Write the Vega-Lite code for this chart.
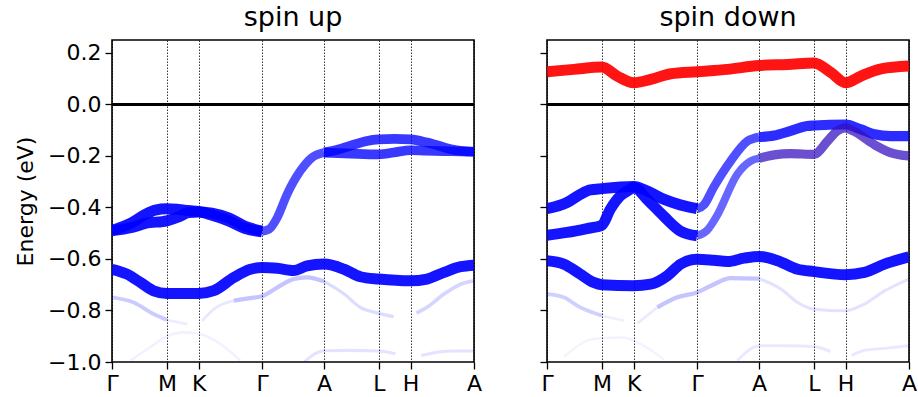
{
  "$schema": "https://vega.github.io/schema/vega-lite/v6.json",
  "padding": {"left": 13, "top": 3, "right": 2, "bottom": 5},
  "config": {
    "font": "DejaVu Sans",
    "view": {"stroke": "#000000", "strokeWidth": 1.6},
    "axis": {"domain": false, "tickColor": "#000000", "tickWidth": 1.3, "tickSize": 7, "labelColor": "#000000", "labelFontSize": 22, "titleFontSize": 22, "titleColor": "#000000", "titleFontWeight": "normal", "labelPadding": 4, "zindex": 1},
    "title": {"fontSize": 27, "fontWeight": "normal", "color": "#000000", "anchor": "middle", "offset": 8},
    "concat": {"spacing": 55}
  },
  "datasets": {
    "bands": [
      {"spin":"up","band":"uF2","proj":"b","weight":0.06,"k":0.19,"E":-0.995},
      {"spin":"up","band":"uF2","proj":"b","weight":0.06,"k":0.40,"E":-0.943},
      {"spin":"up","band":"uF2","proj":"b","weight":0.06,"k":0.577,"E":-0.90},
      {"spin":"up","band":"uF2","proj":"b","weight":0.06,"k":0.75,"E":-0.885},
      {"spin":"up","band":"uF2","proj":"b","weight":0.06,"k":0.911,"E":-0.89},
      {"spin":"up","band":"uF2","proj":"b","weight":0.06,"k":1.14,"E":-0.93},
      {"spin":"up","band":"uF2","proj":"b","weight":0.06,"k":1.35,"E":-0.995},
      {"spin":"up","band":"uF3a","proj":"b","weight":0.12,"k":2.02,"E":-1.0},
      {"spin":"up","band":"uF3a","proj":"b","weight":0.12,"k":2.16,"E":-0.963},
      {"spin":"up","band":"uF3a","proj":"b","weight":0.12,"k":2.228,"E":-0.956},
      {"spin":"up","band":"uF3a","proj":"b","weight":0.12,"k":2.5,"E":-0.955},
      {"spin":"up","band":"uF3a","proj":"b","weight":0.12,"k":2.805,"E":-0.957},
      {"spin":"up","band":"uF3a","proj":"b","weight":0.12,"k":2.98,"E":-0.968},
      {"spin":"up","band":"uF3b","proj":"b","weight":0.12,"k":3.25,"E":-0.975},
      {"spin":"up","band":"uF3b","proj":"b","weight":0.12,"k":3.45,"E":-0.96},
      {"spin":"up","band":"uF3b","proj":"b","weight":0.12,"k":3.6,"E":-0.957},
      {"spin":"up","band":"uF3b","proj":"b","weight":0.12,"k":3.805,"E":-0.957},
      {"spin":"up","band":"uF1a","proj":"b","weight":0.22,"k":0,"E":-0.749},
      {"spin":"up","band":"uF1a","proj":"b","weight":0.22,"k":0.228,"E":-0.769},
      {"spin":"up","band":"uF1a","proj":"b","weight":0.22,"k":0.438,"E":-0.814},
      {"spin":"up","band":"uF1a","proj":"b","weight":0.22,"k":0.577,"E":-0.837},
      {"spin":"up","band":"uF1b","proj":"b","weight":0.08,"k":0.577,"E":-0.837},
      {"spin":"up","band":"uF1b","proj":"b","weight":0.08,"k":0.79,"E":-0.853},
      {"spin":"up","band":"uF1c","proj":"b","weight":0.1,"k":0.95,"E":-0.84},
      {"spin":"up","band":"uF1c","proj":"b","weight":0.1,"k":1.07,"E":-0.795},
      {"spin":"up","band":"uF1c","proj":"b","weight":0.1,"k":1.28,"E":-0.762},
      {"spin":"up","band":"uF1d","proj":"b","weight":0.25,"k":1.28,"E":-0.762},
      {"spin":"up","band":"uF1d","proj":"b","weight":0.25,"k":1.45,"E":-0.752},
      {"spin":"up","band":"uF1d","proj":"b","weight":0.25,"k":1.577,"E":-0.745},
      {"spin":"up","band":"uF1d","proj":"b","weight":0.25,"k":1.736,"E":-0.711},
      {"spin":"up","band":"uF1d","proj":"b","weight":0.25,"k":1.91,"E":-0.678},
      {"spin":"up","band":"uF1d","proj":"b","weight":0.25,"k":2.05,"E":-0.671},
      {"spin":"up","band":"uF1d","proj":"b","weight":0.25,"k":2.228,"E":-0.687},
      {"spin":"up","band":"uF1e","proj":"b","weight":0.15,"k":2.228,"E":-0.687},
      {"spin":"up","band":"uF1e","proj":"b","weight":0.15,"k":2.44,"E":-0.736},
      {"spin":"up","band":"uF1e","proj":"b","weight":0.15,"k":2.61,"E":-0.788},
      {"spin":"up","band":"uF1e","proj":"b","weight":0.15,"k":2.805,"E":-0.811},
      {"spin":"up","band":"uF1e","proj":"b","weight":0.15,"k":2.96,"E":-0.824},
      {"spin":"up","band":"uF1g","proj":"b","weight":0.18,"k":3.2,"E":-0.81},
      {"spin":"up","band":"uF1g","proj":"b","weight":0.18,"k":3.31,"E":-0.788},
      {"spin":"up","band":"uF1g","proj":"b","weight":0.18,"k":3.49,"E":-0.736},
      {"spin":"up","band":"uF1g","proj":"b","weight":0.18,"k":3.665,"E":-0.698},
      {"spin":"up","band":"uF1g","proj":"b","weight":0.18,"k":3.805,"E":-0.685},
      {"spin":"up","band":"uC","proj":"b","weight":1,"k":0,"E":-0.64},
      {"spin":"up","band":"uC","proj":"b","weight":1,"k":0.158,"E":-0.659},
      {"spin":"up","band":"uC","proj":"b","weight":1,"k":0.298,"E":-0.691},
      {"spin":"up","band":"uC","proj":"b","weight":1,"k":0.438,"E":-0.724},
      {"spin":"up","band":"uC","proj":"b","weight":1,"k":0.577,"E":-0.734},
      {"spin":"up","band":"uC","proj":"b","weight":1,"k":0.911,"E":-0.734},
      {"spin":"up","band":"uC","proj":"b","weight":1,"k":1.07,"E":-0.723},
      {"spin":"up","band":"uC","proj":"b","weight":1,"k":1.28,"E":-0.672},
      {"spin":"up","band":"uC","proj":"b","weight":1,"k":1.455,"E":-0.64},
      {"spin":"up","band":"uC","proj":"b","weight":1,"k":1.577,"E":-0.633},
      {"spin":"up","band":"uC","proj":"b","weight":1,"k":1.736,"E":-0.636},
      {"spin":"up","band":"uC","proj":"b","weight":1,"k":1.91,"E":-0.645},
      {"spin":"up","band":"uC","proj":"b","weight":1,"k":2.05,"E":-0.627},
      {"spin":"up","band":"uC","proj":"b","weight":1,"k":2.228,"E":-0.62},
      {"spin":"up","band":"uC","proj":"b","weight":1,"k":2.44,"E":-0.64},
      {"spin":"up","band":"uC","proj":"b","weight":1,"k":2.61,"E":-0.669},
      {"spin":"up","band":"uC","proj":"b","weight":1,"k":2.805,"E":-0.678},
      {"spin":"up","band":"uC","proj":"b","weight":1,"k":3.138,"E":-0.685},
      {"spin":"up","band":"uC","proj":"b","weight":1,"k":3.31,"E":-0.678},
      {"spin":"up","band":"uC","proj":"b","weight":1,"k":3.49,"E":-0.652},
      {"spin":"up","band":"uC","proj":"b","weight":1,"k":3.665,"E":-0.63},
      {"spin":"up","band":"uC","proj":"b","weight":1,"k":3.805,"E":-0.624},
      {"spin":"up","band":"uU1","proj":"b","weight":1,"k":0,"E":-0.49},
      {"spin":"up","band":"uU1","proj":"b","weight":1,"k":0.21,"E":-0.459},
      {"spin":"up","band":"uU1","proj":"b","weight":1,"k":0.35,"E":-0.427},
      {"spin":"up","band":"uU1","proj":"b","weight":1,"k":0.455,"E":-0.41},
      {"spin":"up","band":"uU1","proj":"b","weight":1,"k":0.577,"E":-0.405},
      {"spin":"up","band":"uU1","proj":"b","weight":1,"k":0.70,"E":-0.408},
      {"spin":"up","band":"uU1","proj":"b","weight":1,"k":0.80,"E":-0.412},
      {"spin":"up","band":"uU1","proj":"b","weight":1,"k":0.911,"E":-0.416},
      {"spin":"up","band":"uU1","proj":"b","weight":1,"k":1.05,"E":-0.422},
      {"spin":"up","band":"uU1","proj":"b","weight":1,"k":1.225,"E":-0.44},
      {"spin":"up","band":"uU1","proj":"b","weight":1,"k":1.40,"E":-0.473},
      {"spin":"up","band":"uU1","proj":"b","weight":1,"k":1.577,"E":-0.492},
      {"spin":"up","band":"uU2","proj":"b","weight":1,"k":0,"E":-0.49},
      {"spin":"up","band":"uU2","proj":"b","weight":1,"k":0.21,"E":-0.478},
      {"spin":"up","band":"uU2","proj":"b","weight":1,"k":0.35,"E":-0.462},
      {"spin":"up","band":"uU2","proj":"b","weight":1,"k":0.577,"E":-0.452},
      {"spin":"up","band":"uU2","proj":"b","weight":1,"k":0.70,"E":-0.437},
      {"spin":"up","band":"uU2","proj":"b","weight":1,"k":0.805,"E":-0.42},
      {"spin":"up","band":"uU2","proj":"b","weight":1,"k":0.911,"E":-0.418},
      {"spin":"up","band":"uU2","proj":"b","weight":1,"k":1.05,"E":-0.43},
      {"spin":"up","band":"uU2","proj":"b","weight":1,"k":1.225,"E":-0.452},
      {"spin":"up","band":"uU2","proj":"b","weight":1,"k":1.40,"E":-0.482},
      {"spin":"up","band":"uU2","proj":"b","weight":1,"k":1.577,"E":-0.495},
      {"spin":"up","band":"uS","proj":"b","weight":0.75,"k":1.577,"E":-0.493},
      {"spin":"up","band":"uS","proj":"b","weight":0.75,"k":1.65,"E":-0.485},
      {"spin":"up","band":"uS","proj":"b","weight":0.75,"k":1.736,"E":-0.44},
      {"spin":"up","band":"uS","proj":"b","weight":0.75,"k":1.84,"E":-0.349},
      {"spin":"up","band":"uS","proj":"b","weight":0.75,"k":1.98,"E":-0.258},
      {"spin":"up","band":"uS","proj":"b","weight":0.75,"k":2.10,"E":-0.207},
      {"spin":"up","band":"uS","proj":"b","weight":0.75,"k":2.228,"E":-0.187},
      {"spin":"up","band":"uU4","proj":"b","weight":0.85,"k":2.228,"E":-0.187},
      {"spin":"up","band":"uU4","proj":"b","weight":0.85,"k":2.35,"E":-0.178},
      {"spin":"up","band":"uU4","proj":"b","weight":0.85,"k":2.51,"E":-0.16},
      {"spin":"up","band":"uU4","proj":"b","weight":0.85,"k":2.68,"E":-0.142},
      {"spin":"up","band":"uU4","proj":"b","weight":0.85,"k":2.805,"E":-0.136},
      {"spin":"up","band":"uU4","proj":"b","weight":0.85,"k":2.97,"E":-0.134},
      {"spin":"up","band":"uU4","proj":"b","weight":0.85,"k":3.138,"E":-0.136},
      {"spin":"up","band":"uU4","proj":"b","weight":0.85,"k":3.30,"E":-0.147},
      {"spin":"up","band":"uU4","proj":"b","weight":0.85,"k":3.385,"E":-0.155},
      {"spin":"up","band":"uU4","proj":"b","weight":0.85,"k":3.56,"E":-0.174},
      {"spin":"up","band":"uU4","proj":"b","weight":0.85,"k":3.805,"E":-0.184},
      {"spin":"up","band":"uU5","proj":"b","weight":0.85,"k":2.228,"E":-0.187},
      {"spin":"up","band":"uU5","proj":"b","weight":0.85,"k":2.51,"E":-0.191},
      {"spin":"up","band":"uU5","proj":"b","weight":0.85,"k":2.805,"E":-0.194},
      {"spin":"up","band":"uU5","proj":"b","weight":0.85,"k":2.96,"E":-0.187},
      {"spin":"up","band":"uU5","proj":"b","weight":0.85,"k":3.138,"E":-0.178},
      {"spin":"up","band":"uU5","proj":"b","weight":0.85,"k":3.30,"E":-0.18},
      {"spin":"up","band":"uU5","proj":"b","weight":0.85,"k":3.56,"E":-0.182},
      {"spin":"up","band":"uU5","proj":"b","weight":0.85,"k":3.805,"E":-0.184},

      {"spin":"down","band":"dF3","proj":"b","weight":0.05,"k":0.176,"E":-0.98},
      {"spin":"down","band":"dF3","proj":"b","weight":0.05,"k":0.50,"E":-0.91},
      {"spin":"down","band":"dF3","proj":"b","weight":0.05,"k":0.80,"E":-0.905},
      {"spin":"down","band":"dF3","proj":"b","weight":0.05,"k":0.98,"E":-0.93},
      {"spin":"down","band":"dF3","proj":"b","weight":0.05,"k":1.23,"E":-0.99},
      {"spin":"down","band":"dF2a","proj":"b","weight":0.1,"k":2.0,"E":-0.995},
      {"spin":"down","band":"dF2a","proj":"b","weight":0.1,"k":2.14,"E":-0.95},
      {"spin":"down","band":"dF2a","proj":"b","weight":0.1,"k":2.228,"E":-0.937},
      {"spin":"down","band":"dF2a","proj":"b","weight":0.1,"k":2.5,"E":-0.937},
      {"spin":"down","band":"dF2a","proj":"b","weight":0.1,"k":2.805,"E":-0.94},
      {"spin":"down","band":"dF2a","proj":"b","weight":0.1,"k":2.98,"E":-0.96},
      {"spin":"down","band":"dF2b","proj":"b","weight":0.1,"k":3.2,"E":-0.975},
      {"spin":"down","band":"dF2b","proj":"b","weight":0.1,"k":3.337,"E":-0.955},
      {"spin":"down","band":"dF2b","proj":"b","weight":0.1,"k":3.548,"E":-0.947},
      {"spin":"down","band":"dF2b","proj":"b","weight":0.1,"k":3.805,"E":-0.937},
      {"spin":"down","band":"dF1a","proj":"b","weight":0.2,"k":0,"E":-0.736},
      {"spin":"down","band":"dF1a","proj":"b","weight":0.2,"k":0.176,"E":-0.749},
      {"spin":"down","band":"dF1a","proj":"b","weight":0.2,"k":0.35,"E":-0.788},
      {"spin":"down","band":"dF1a","proj":"b","weight":0.2,"k":0.577,"E":-0.82},
      {"spin":"down","band":"dF1b","proj":"b","weight":0.07,"k":0.577,"E":-0.82},
      {"spin":"down","band":"dF1b","proj":"b","weight":0.07,"k":0.81,"E":-0.84},
      {"spin":"down","band":"dF1c","proj":"b","weight":0.08,"k":0.95,"E":-0.85},
      {"spin":"down","band":"dF1c","proj":"b","weight":0.08,"k":1.16,"E":-0.788},
      {"spin":"down","band":"dF1d","proj":"b","weight":0.25,"k":1.16,"E":-0.788},
      {"spin":"down","band":"dF1d","proj":"b","weight":0.25,"k":1.37,"E":-0.749},
      {"spin":"down","band":"dF1d","proj":"b","weight":0.25,"k":1.577,"E":-0.73},
      {"spin":"down","band":"dF1d","proj":"b","weight":0.25,"k":1.757,"E":-0.698},
      {"spin":"down","band":"dF1d","proj":"b","weight":0.25,"k":1.93,"E":-0.674},
      {"spin":"down","band":"dF1d","proj":"b","weight":0.25,"k":2.228,"E":-0.676},
      {"spin":"down","band":"dF1e","proj":"b","weight":0.12,"k":2.228,"E":-0.676},
      {"spin":"down","band":"dF1e","proj":"b","weight":0.12,"k":2.46,"E":-0.717},
      {"spin":"down","band":"dF1e","proj":"b","weight":0.12,"k":2.635,"E":-0.769},
      {"spin":"down","band":"dF1e","proj":"b","weight":0.12,"k":2.805,"E":-0.795},
      {"spin":"down","band":"dF1e","proj":"b","weight":0.12,"k":3.138,"E":-0.801},
      {"spin":"down","band":"dF1e","proj":"b","weight":0.12,"k":3.337,"E":-0.775},
      {"spin":"down","band":"dF1e","proj":"b","weight":0.12,"k":3.548,"E":-0.724},
      {"spin":"down","band":"dF1e","proj":"b","weight":0.12,"k":3.805,"E":-0.678},
      {"spin":"down","band":"dC","proj":"b","weight":1,"k":0,"E":-0.607},
      {"spin":"down","band":"dC","proj":"b","weight":1,"k":0.176,"E":-0.62},
      {"spin":"down","band":"dC","proj":"b","weight":1,"k":0.35,"E":-0.659},
      {"spin":"down","band":"dC","proj":"b","weight":1,"k":0.49,"E":-0.691},
      {"spin":"down","band":"dC","proj":"b","weight":1,"k":0.577,"E":-0.70},
      {"spin":"down","band":"dC","proj":"b","weight":1,"k":0.911,"E":-0.704},
      {"spin":"down","band":"dC","proj":"b","weight":1,"k":1.09,"E":-0.698},
      {"spin":"down","band":"dC","proj":"b","weight":1,"k":1.265,"E":-0.665},
      {"spin":"down","band":"dC","proj":"b","weight":1,"k":1.405,"E":-0.62},
      {"spin":"down","band":"dC","proj":"b","weight":1,"k":1.577,"E":-0.601},
      {"spin":"down","band":"dC","proj":"b","weight":1,"k":1.75,"E":-0.605},
      {"spin":"down","band":"dC","proj":"b","weight":1,"k":1.897,"E":-0.61},
      {"spin":"down","band":"dC","proj":"b","weight":1,"k":2.07,"E":-0.597},
      {"spin":"down","band":"dC","proj":"b","weight":1,"k":2.228,"E":-0.59},
      {"spin":"down","band":"dC","proj":"b","weight":1,"k":2.424,"E":-0.607},
      {"spin":"down","band":"dC","proj":"b","weight":1,"k":2.635,"E":-0.64},
      {"spin":"down","band":"dC","proj":"b","weight":1,"k":2.805,"E":-0.649},
      {"spin":"down","band":"dC","proj":"b","weight":1,"k":3.138,"E":-0.661},
      {"spin":"down","band":"dC","proj":"b","weight":1,"k":3.337,"E":-0.652},
      {"spin":"down","band":"dC","proj":"b","weight":1,"k":3.548,"E":-0.62},
      {"spin":"down","band":"dC","proj":"b","weight":1,"k":3.805,"E":-0.592},
      {"spin":"down","band":"dR","proj":"r","weight":1,"k":0,"E":0.127},
      {"spin":"down","band":"dR","proj":"r","weight":1,"k":0.28,"E":0.136},
      {"spin":"down","band":"dR","proj":"r","weight":1,"k":0.577,"E":0.145},
      {"spin":"down","band":"dR","proj":"r","weight":1,"k":0.738,"E":0.11},
      {"spin":"down","band":"dR","proj":"r","weight":1,"k":0.911,"E":0.084},
      {"spin":"down","band":"dR","proj":"r","weight":1,"k":1.09,"E":0.097},
      {"spin":"down","band":"dR","proj":"r","weight":1,"k":1.3,"E":0.119},
      {"spin":"down","band":"dR","proj":"r","weight":1,"k":1.577,"E":0.127},
      {"spin":"down","band":"dR","proj":"r","weight":1,"k":1.897,"E":0.136},
      {"spin":"down","band":"dR","proj":"r","weight":1,"k":2.228,"E":0.151},
      {"spin":"down","band":"dR","proj":"r","weight":1,"k":2.53,"E":0.155},
      {"spin":"down","band":"dR","proj":"r","weight":1,"k":2.805,"E":0.161},
      {"spin":"down","band":"dR","proj":"r","weight":1,"k":2.986,"E":0.123},
      {"spin":"down","band":"dR","proj":"r","weight":1,"k":3.138,"E":0.084},
      {"spin":"down","band":"dR","proj":"r","weight":1,"k":3.30,"E":0.11},
      {"spin":"down","band":"dR","proj":"r","weight":1,"k":3.513,"E":0.138},
      {"spin":"down","band":"dR","proj":"r","weight":1,"k":3.805,"E":0.149},
      {"spin":"down","band":"dB1a","proj":"b","weight":1,"k":0,"E":-0.405},
      {"spin":"down","band":"dB1a","proj":"b","weight":1,"k":0.21,"E":-0.381},
      {"spin":"down","band":"dB1a","proj":"b","weight":1,"k":0.35,"E":-0.349},
      {"spin":"down","band":"dB1a","proj":"b","weight":1,"k":0.455,"E":-0.332},
      {"spin":"down","band":"dB1a","proj":"b","weight":1,"k":0.577,"E":-0.327},
      {"spin":"down","band":"dB1a","proj":"b","weight":1,"k":0.911,"E":-0.319},
      {"spin":"down","band":"dB1a","proj":"b","weight":1,"k":1.05,"E":-0.336},
      {"spin":"down","band":"dB1a","proj":"b","weight":1,"k":1.225,"E":-0.368},
      {"spin":"down","band":"dB1a","proj":"b","weight":1,"k":1.40,"E":-0.39},
      {"spin":"down","band":"dB1a","proj":"b","weight":1,"k":1.577,"E":-0.405},
      {"spin":"down","band":"dB1b","proj":"b","weight":0.75,"k":1.577,"E":-0.405},
      {"spin":"down","band":"dB1b","proj":"b","weight":0.75,"k":1.65,"E":-0.39},
      {"spin":"down","band":"dB1b","proj":"b","weight":0.75,"k":1.75,"E":-0.323},
      {"spin":"down","band":"dB1b","proj":"b","weight":0.75,"k":1.93,"E":-0.22},
      {"spin":"down","band":"dB1b","proj":"b","weight":0.75,"k":2.11,"E":-0.142},
      {"spin":"down","band":"dB1b","proj":"b","weight":0.75,"k":2.228,"E":-0.127},
      {"spin":"down","band":"dB1c","proj":"b","weight":0.9,"k":2.228,"E":-0.127},
      {"spin":"down","band":"dB1c","proj":"b","weight":0.9,"k":2.388,"E":-0.121},
      {"spin":"down","band":"dB1c","proj":"b","weight":0.9,"k":2.56,"E":-0.103},
      {"spin":"down","band":"dB1c","proj":"b","weight":0.9,"k":2.735,"E":-0.084},
      {"spin":"down","band":"dB1c","proj":"b","weight":0.9,"k":2.805,"E":-0.082},
      {"spin":"down","band":"dB1c","proj":"b","weight":0.9,"k":3.138,"E":-0.078},
      {"spin":"down","band":"dB1c","proj":"b","weight":0.9,"k":3.30,"E":-0.097},
      {"spin":"down","band":"dB1c","proj":"b","weight":0.9,"k":3.44,"E":-0.116},
      {"spin":"down","band":"dB1c","proj":"b","weight":0.9,"k":3.61,"E":-0.123},
      {"spin":"down","band":"dB1c","proj":"b","weight":0.9,"k":3.805,"E":-0.123},
      {"spin":"down","band":"dB2a","proj":"b","weight":1,"k":0,"E":-0.508},
      {"spin":"down","band":"dB2a","proj":"b","weight":1,"k":0.21,"E":-0.497},
      {"spin":"down","band":"dB2a","proj":"b","weight":1,"k":0.42,"E":-0.482},
      {"spin":"down","band":"dB2a","proj":"b","weight":1,"k":0.577,"E":-0.469},
      {"spin":"down","band":"dB2a","proj":"b","weight":1,"k":0.665,"E":-0.407},
      {"spin":"down","band":"dB2a","proj":"b","weight":1,"k":0.77,"E":-0.355},
      {"spin":"down","band":"dB2a","proj":"b","weight":1,"k":0.875,"E":-0.33},
      {"spin":"down","band":"dB2a","proj":"b","weight":1,"k":0.911,"E":-0.322},
      {"spin":"down","band":"dB2a","proj":"b","weight":1,"k":1.05,"E":-0.368},
      {"spin":"down","band":"dB2a","proj":"b","weight":1,"k":1.225,"E":-0.433},
      {"spin":"down","band":"dB2a","proj":"b","weight":1,"k":1.40,"E":-0.491},
      {"spin":"down","band":"dB2a","proj":"b","weight":1,"k":1.577,"E":-0.51},
      {"spin":"down","band":"dB2b","proj":"b","weight":0.65,"k":1.577,"E":-0.51},
      {"spin":"down","band":"dB2b","proj":"b","weight":0.65,"k":1.68,"E":-0.49},
      {"spin":"down","band":"dB2b","proj":"b","weight":0.65,"k":1.785,"E":-0.433},
      {"spin":"down","band":"dB2b","proj":"b","weight":0.65,"k":2.0,"E":-0.271},
      {"spin":"down","band":"dB2b","proj":"b","weight":0.65,"k":2.14,"E":-0.22},
      {"spin":"down","band":"dB2b","proj":"b","weight":0.65,"k":2.228,"E":-0.209},
      {"spin":"down","band":"dB2c","proj":"m","weight":0.8,"k":2.228,"E":-0.209},
      {"spin":"down","band":"dB2c","proj":"m","weight":0.8,"k":2.388,"E":-0.196},
      {"spin":"down","band":"dB2c","proj":"m","weight":0.8,"k":2.56,"E":-0.191},
      {"spin":"down","band":"dB2c","proj":"m","weight":0.8,"k":2.805,"E":-0.194},
      {"spin":"down","band":"dB2c","proj":"m","weight":0.8,"k":2.95,"E":-0.142},
      {"spin":"down","band":"dB2c","proj":"m","weight":0.8,"k":3.05,"E":-0.103},
      {"spin":"down","band":"dB2c","proj":"m","weight":0.8,"k":3.138,"E":-0.091},
      {"spin":"down","band":"dB2c","proj":"m","weight":0.8,"k":3.22,"E":-0.103},
      {"spin":"down","band":"dB2c","proj":"m","weight":0.8,"k":3.44,"E":-0.156},
      {"spin":"down","band":"dB2c","proj":"m","weight":0.8,"k":3.61,"E":-0.187},
      {"spin":"down","band":"dB2c","proj":"m","weight":0.8,"k":3.805,"E":-0.2}
    ]
  },
  "hconcat": [
    {
      "title": {"text": "spin up"},
      "width": 362,
      "height": 322,
      "layer": [
        {
          "data": {"name": "bands"},
          "transform": [{"filter": "datum.spin == 'up'"}],
          "mark": {"type": "line", "interpolate": "monotone", "strokeCap": "butt", "strokeJoin": "round", "clip": true},
          "encoding": {
            "x": {"field": "k", "type": "quantitative", "scale": {"domain": [0, 3.805], "nice": false, "zero": false},
              "axis": {"values": [0, 0.577, 0.911, 1.577, 2.228, 2.805, 3.138, 3.805], "labelExpr": "datum.value < 0.3 ? 'Γ' : datum.value < 0.7 ? 'M' : datum.value < 1.2 ? 'K' : datum.value < 1.9 ? 'Γ' : datum.value < 2.5 ? 'A' : datum.value < 3 ? 'L' : datum.value < 3.5 ? 'H' : 'A'", "title": null, "grid": true, "gridColor": "#000000", "gridDash": [1.5, 1.5], "gridWidth": 0.8, "gridOpacity": 1, "labelFlush": false, "labelOverlap": false}},
            "y": {"field": "E", "type": "quantitative", "scale": {"domain": [-1, 0.25], "nice": false, "zero": false},
              "axis": {"values": [-1, -0.8, -0.6, -0.4, -0.2, 0, 0.2], "format": ".1f", "title": "Energy (eV)", "titlePadding": 10, "grid": false}},
            "detail": {"field": "band", "type": "nominal"},
            "color": {"field": "proj", "type": "nominal", "scale": {"domain": ["b", "r", "m"], "range": ["#0000ff", "#ff0000", "#3510c0"]}, "legend": null},
            "opacity": {"field": "weight", "type": "quantitative", "scale": {"domain": [0, 1], "range": [0, 0.92]}, "legend": null},
            "strokeWidth": {"field": "weight", "type": "quantitative", "scale": {"domain": [0, 1], "range": [2, 11]}, "legend": null}
          }
        },
        {
          "data": {"values": [{"level": 0}]},
          "mark": {"type": "rule", "color": "#000000", "strokeWidth": 3},
          "encoding": {"y": {"field": "level", "type": "quantitative"}}
        }
      ]
    },
    {
      "title": {"text": "spin down"},
      "width": 362,
      "height": 322,
      "layer": [
        {
          "data": {"name": "bands"},
          "transform": [{"filter": "datum.spin == 'down'"}],
          "mark": {"type": "line", "interpolate": "monotone", "strokeCap": "butt", "strokeJoin": "round", "clip": true},
          "encoding": {
            "x": {"field": "k", "type": "quantitative", "scale": {"domain": [0, 3.805], "nice": false, "zero": false},
              "axis": {"values": [0, 0.577, 0.911, 1.577, 2.228, 2.805, 3.138, 3.805], "labelExpr": "datum.value < 0.3 ? 'Γ' : datum.value < 0.7 ? 'M' : datum.value < 1.2 ? 'K' : datum.value < 1.9 ? 'Γ' : datum.value < 2.5 ? 'A' : datum.value < 3 ? 'L' : datum.value < 3.5 ? 'H' : 'A'", "title": null, "grid": true, "gridColor": "#000000", "gridDash": [1.5, 1.5], "gridWidth": 0.8, "gridOpacity": 1, "labelFlush": false, "labelOverlap": false}},
            "y": {"field": "E", "type": "quantitative", "scale": {"domain": [-1, 0.25], "nice": false, "zero": false},
              "axis": {"values": [-1, -0.8, -0.6, -0.4, -0.2, 0, 0.2], "labels": false, "title": null, "grid": false}},
            "detail": {"field": "band", "type": "nominal"},
            "color": {"field": "proj", "type": "nominal", "scale": {"domain": ["b", "r", "m"], "range": ["#0000ff", "#ff0000", "#3510c0"]}, "legend": null},
            "opacity": {"field": "weight", "type": "quantitative", "scale": {"domain": [0, 1], "range": [0, 0.92]}, "legend": null},
            "strokeWidth": {"field": "weight", "type": "quantitative", "scale": {"domain": [0, 1], "range": [2, 11]}, "legend": null}
          }
        },
        {
          "data": {"values": [{"level": 0}]},
          "mark": {"type": "rule", "color": "#000000", "strokeWidth": 3},
          "encoding": {"y": {"field": "level", "type": "quantitative"}}
        }
      ]
    }
  ]
}
